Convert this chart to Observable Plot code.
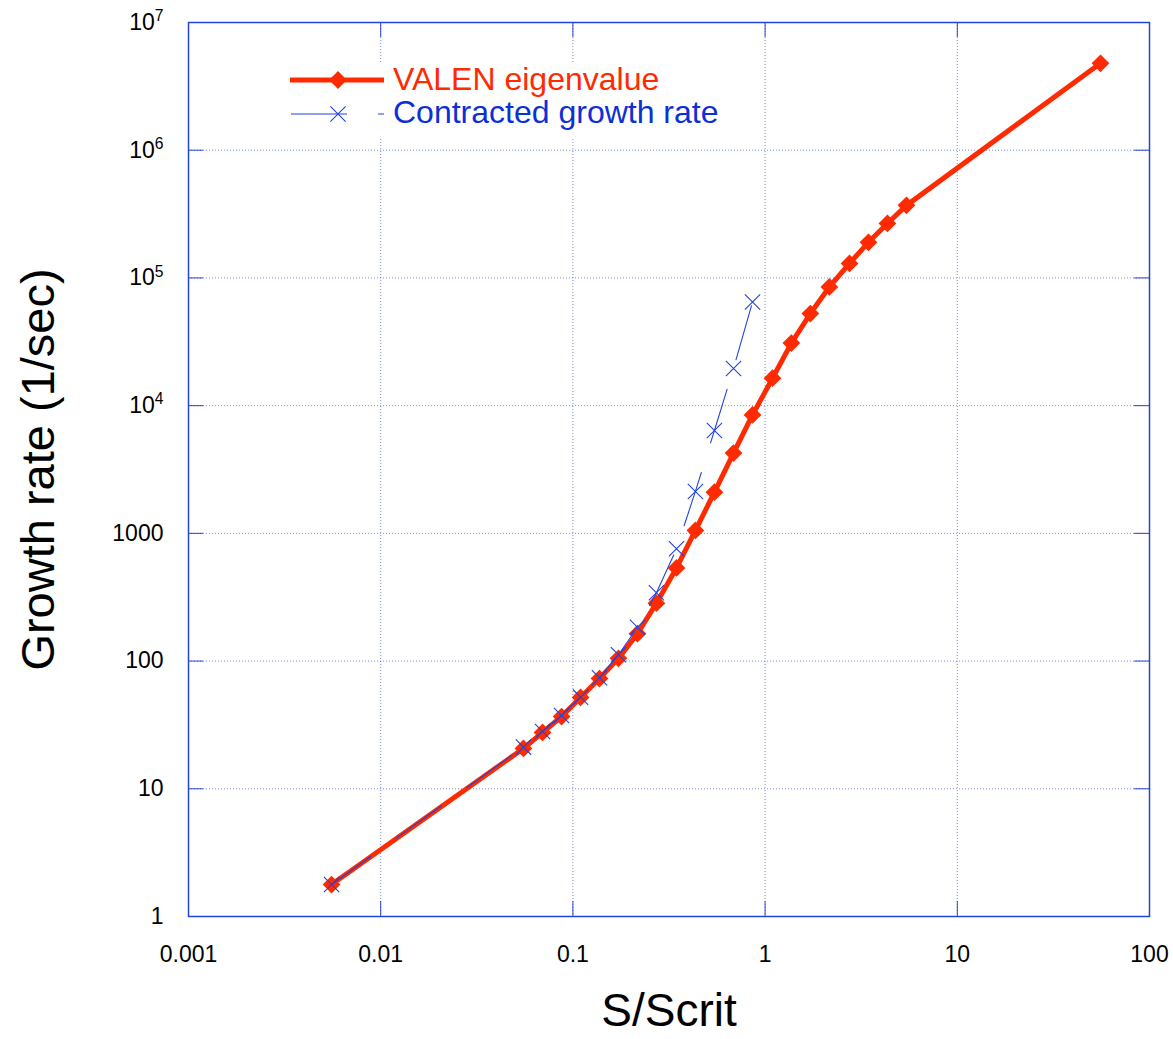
<!DOCTYPE html>
<html><head><meta charset="utf-8">
<script src="https://cdn.jsdelivr.net/npm/d3@7"></script>
<script src="https://cdn.jsdelivr.net/npm/@observablehq/plot@0.6"></script>
<style>
body{margin:0;background:#fff;}
#wrap{position:relative;width:1173px;height:1039px;font-family:"Liberation Sans",Arial,Helvetica,sans-serif;}
#wrap svg{display:block;}
#legend{position:absolute;left:0;top:0;pointer-events:none;}
</style></head><body><div id="wrap"></div>
<script>
// S/Scrit values for the VALEN eigenvalue series
const valenS = [0.00555, 0.0553, 0.0695, 0.0873, 0.1096, 0.1375, 0.1726, 0.2168, 0.272, 0.346, 0.434, 0.545, 0.685, 0.86, 1.093, 1.37, 1.72, 2.16, 2.75, 3.45, 4.33, 5.44, 55.6];
const valenRate = [1.78, 20.7, 27.6, 36.8, 51.9, 73, 105, 164, 284, 536, 1054, 2100, 4250, 8450, 16400, 30900, 52600, 85000, 130000, 190000, 267000, 370000, 4790000];
// S/Scrit values for the contracted growth-rate series
const contractedS = [0.00555, 0.0553, 0.0695, 0.0873, 0.1096, 0.1375, 0.1726, 0.2168, 0.272, 0.346, 0.434, 0.545, 0.685, 0.86];
const contractedRate = [1.78, 21.2, 28.1, 37.5, 52.2, 74, 112, 184, 343, 757, 2130, 6390, 19550, 64700];

const seriesNames = ["VALEN eigenvalue", "Contracted growth rate"];
const xTicks = [0.001, 0.01, 0.1, 1, 10, 100];
const xTickLabels = ["0.001", "0.01", "0.1", "1", "10", "100"];
const yTicks = [1, 10, 100, 1000, 1e4, 1e5, 1e6, 1e7];
const yTickLabels = ["1", "10", "100", "1000", "10^4", "10^5", "10^6", "10^7"];
const xTitle = "S/Scrit";
const yTitle = "Growth rate (1/sec)";

const W = 1173, H = 1039, mL = 188, mR = 24, mT = 22, mB = 123;
const pw = W - mL - mR, ph = H - mT - mB;
const red = "#ff2a00", blue = "#2443dc", textBlue = "#0c2fd6";
const font = '"Liberation Sans", Arial, Helvetica, sans-serif';
const dashA = 56, dashGap = 31;

const valen = valenS.map((s, i) => ({s, g: valenRate[i]}));
const contr = contractedS.map((s, i) => ({s, g: contractedRate[i]}));
const lab = (ticks, labels) => d => labels[ticks.findIndex(t => Math.abs(t - d) / t < 1e-9)];

const chart = Plot.plot({
  width: W, height: H, marginLeft: mL, marginRight: mR, marginTop: mT, marginBottom: mB,
  style: {fontFamily: font, background: "#fff", color: "#000"},
  x: {type: "log", domain: [0.001, 100]},
  y: {type: "log", domain: [1, 1e7]},
  marks: [
    Plot.gridX(xTicks, {stroke: blue, strokeOpacity: 0.6, strokeDasharray: "1,2"}),
    Plot.gridY(yTicks, {stroke: blue, strokeOpacity: 0.6, strokeDasharray: "1,2"}),
    Plot.tickX(xTicks, {x: d => d, stroke: blue, insetTop: ph - 15}),
    Plot.tickX(xTicks, {x: d => d, stroke: blue, insetBottom: ph - 15}),
    Plot.tickY(yTicks, {y: d => d, stroke: blue, insetRight: pw - 15}),
    Plot.tickY(yTicks, {y: d => d, stroke: blue, insetLeft: pw - 15}),
    Plot.frame({stroke: blue, strokeWidth: 1.5}),
    Plot.axisX(xTicks, {tickSize: 0, tickPadding: 29, tickFormat: lab(xTicks, xTickLabels), fontSize: 23, label: null}),
    Plot.axisY(yTicks, {tickSize: 0, tickPadding: 25, tickFormat: lab(yTicks, yTickLabels), fontSize: 23, label: null}),
    Plot.text([xTitle], {frameAnchor: "bottom", dy: 95, fontSize: 46, textAnchor: "middle", lineAnchor: "middle"}),
    Plot.text([yTitle], {frameAnchor: "left", dx: -150, rotate: -90, fontSize: 47, textAnchor: "middle", lineAnchor: "middle"}),
    Plot.line(valen, {x: "s", y: "g", stroke: red, strokeWidth: 5}),
    Plot.dot(valen, {x: "s", y: "g", symbol: "diamond2", r: 8, fill: red}),
    Plot.line(contr, {x: "s", y: "g", stroke: blue, strokeWidth: 1.1, strokeDasharray: `${dashA},${dashGap}`, className: "contracted-line"}),
    Plot.dot(contr, {x: "s", y: "g", symbol: "times", r: 7, stroke: blue, strokeWidth: 1.1})
  ]
});
document.getElementById("wrap").appendChild(chart);

// align dash phase of the contracted line (a dash begins just below the 12th point)
{
  const sx = chart.scale("x"), sy = chart.scale("y");
  const pts = contr.map(d => [sx.apply(d.s), sy.apply(d.g)]);
  let cum = [0];
  for (let i = 1; i < pts.length; i++) cum.push(cum[i - 1] + Math.hypot(pts[i][0] - pts[i - 1][0], pts[i][1] - pts[i - 1][1]));
  const period = dashA + dashGap;
  const L0 = cum[11] - 13;
  const off = period - (L0 % period);
  d3.select(chart).selectAll(".contracted-line, .contracted-line path").attr("stroke-dashoffset", off);
}

// superscript exponents in tick labels
d3.select(chart).selectAll("text").each(function() {
  const t = this.textContent;
  if (t.includes("^")) {
    const [base, exp] = t.split("^");
    const sel = d3.select(this);
    sel.text(null);
    sel.append("tspan").text(base);
    sel.append("tspan").attr("dy", "-0.55em").attr("font-size", "0.68em").text(exp);
  }
});

// legend inside the plot (white box covering grid)
const leg = d3.select("#wrap").append("svg").attr("id", "legend").attr("width", W).attr("height", H);
leg.append("rect").attr("x", 281).attr("y", 62).attr("width", 444).attr("height", 76).attr("fill", "#fff");
leg.append("line").attr("x1", 290).attr("x2", 384).attr("y1", 80).attr("y2", 80).attr("stroke", red).attr("stroke-width", 5);
leg.append("path").attr("d", d3.symbol(d3.symbolDiamond2, Math.PI * 8 * 8)()).attr("transform", "translate(338,80)").attr("fill", red);
leg.append("text").attr("x", 393).attr("y", 90).attr("font-size", 32).attr("font-family", font).attr("fill", red).text(seriesNames[0]);
leg.append("line").attr("x1", 291).attr("x2", 384).attr("y1", 114).attr("y2", 114).attr("stroke", blue).attr("stroke-width", 1.1).attr("stroke-dasharray", `${dashA},${dashGap}`);
leg.append("path").attr("d", d3.symbol(d3.symbolTimes, Math.PI * 7 * 7)()).attr("transform", "translate(338,114)").attr("fill", "none").attr("stroke", blue).attr("stroke-width", 1.1);
leg.append("text").attr("x", 393).attr("y", 123).attr("font-size", 32).attr("font-family", font).attr("fill", textBlue).text(seriesNames[1]);
</script>
</body></html>
